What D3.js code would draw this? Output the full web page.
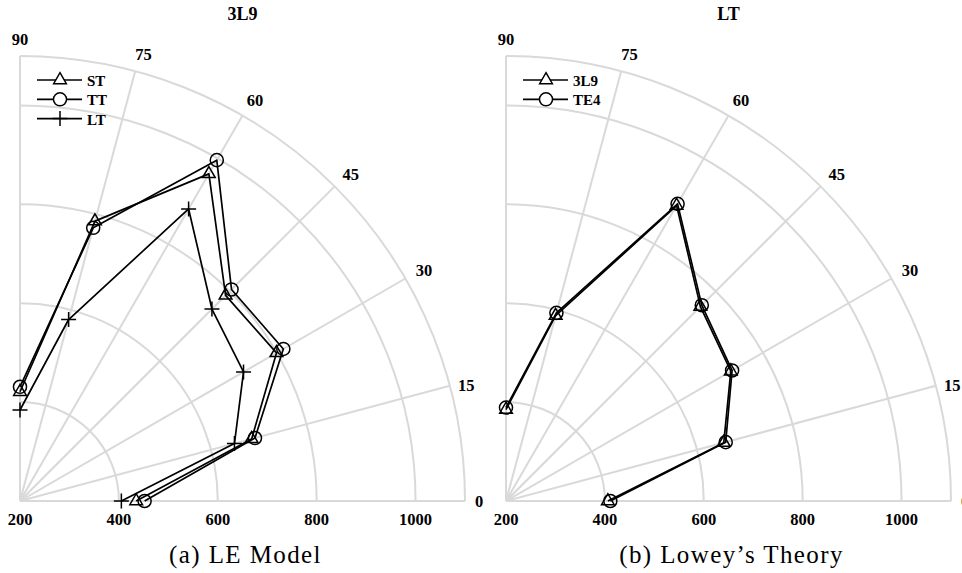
<!DOCTYPE html>
<html>
<head>
<meta charset="utf-8">
<script src="https://cdn.jsdelivr.net/npm/d3@7"></script>
<style>
  html, body { margin: 0; padding: 0; background: #fff; }
  svg { display: block; }
</style>
</head>
<body>
<svg id="chart" width="962" height="573"></svg>
<script>
// ---- data ----
const angles = [0, 15, 30, 45, 60, 75, 90];
const radialTicks = [200, 400, 600, 800, 1000];
const radialMax = 1100;

// panel (a): LE Model, title 3L9
const stValues = [435, 685, 799, 788, 964, 786, 421];
const ttValues = [452, 692, 815, 805, 996, 772, 431];
const ltValues = [405, 649, 722, 749, 882, 580, 384];

// panel (b): Lowey's Theory, title LT
const l39Values = [406, 656, 725, 756, 890, 588, 385];
const te4Values = [411, 660, 728, 760, 894, 594, 389];

const panelTitles = ["3L9", "LT"];
const captions = ["(a) LE Model", "(b) Lowey\u2019s Theory"];
const seriesA = [
  { name: "ST", values: stValues, marker: "triangle" },
  { name: "TT", values: ttValues, marker: "circle" },
  { name: "LT", values: ltValues, marker: "plus" }
];
const seriesB = [
  { name: "3L9", values: l39Values, marker: "triangle" },
  { name: "TE4", values: te4Values, marker: "circle" }
];

// ---- drawing ----
const svg = d3.select("#chart");
const R = 445;
const serif = "'Liberation Serif', 'Times New Roman', serif";
const gridColor = "#d9d9d9";

const rScale = d3.scaleLinear().domain([200, radialMax]).range([0, R]);
const aScale = d3.scaleLinear().domain([0, 90]).range([0, Math.PI / 2]);

function markerPath(type) {
  if (type === "triangle") return d3.symbol().type(d3.symbolTriangle).size(70)();
  if (type === "circle") return d3.symbol().type(d3.symbolCircle).size(135)();
  return "M-7.5,0H7.5M0,-7.5V7.5";
}

function drawPanel(cx, cy, title, caption, series) {
  const g = svg.append("g");
  const pt = (a, v) => [cx + rScale(v) * Math.cos(aScale(a)), cy - rScale(v) * Math.sin(aScale(a))];

  // rings
  const arc = d3.arc().startAngle(0).endAngle(Math.PI / 2).innerRadius(d => rScale(d)).outerRadius(d => rScale(d));
  [...radialTicks.slice(1), radialMax].forEach(v => {
    g.append("path")
      .attr("d", arc(v))
      .attr("transform", `translate(${cx},${cy})`)
      .attr("fill", "none").attr("stroke", gridColor).attr("stroke-width", 2);
  });
  // spokes
  angles.forEach(a => {
    const [x, y] = pt(a, radialMax);
    g.append("line").attr("x1", cx).attr("y1", cy).attr("x2", x).attr("y2", y)
      .attr("stroke", gridColor).attr("stroke-width", 2);
  });
  // angle labels
  angles.forEach(a => {
    const th = aScale(a);
    const d = R + 17;
    const x = cx + d * Math.cos(th) + (a > 0 && a < 90 ? (a === 15 ? 0 : 4) : (a === 0 ? -3 : 0));
    const y = cy - d * Math.sin(th) + (a === 15 ? 4 : 0);
    g.append("text").attr("x", x).attr("y", y)
      .attr("text-anchor", "middle").attr("dominant-baseline", "central")
      .attr("font-family", serif).attr("font-weight", "bold").attr("font-size", 16.5)
      .text(a);
  });
  // radial tick labels
  radialTicks.forEach(v => {
    g.append("text").attr("x", cx + rScale(v)).attr("y", cy + 18)
      .attr("text-anchor", "middle").attr("dominant-baseline", "central")
      .attr("font-family", serif).attr("font-weight", "bold").attr("font-size", 16.5)
      .text(v);
  });
  // title
  g.append("text").attr("x", cx + R / 2).attr("y", 14)
    .attr("text-anchor", "middle").attr("dominant-baseline", "central")
    .attr("font-family", serif).attr("font-weight", "bold").attr("font-size", 18)
    .text(title);
  // caption
  g.append("text").attr("x", cx + R / 2 + 3).attr("y", 563)
    .attr("text-anchor", "middle")
    .attr("font-family", serif).attr("font-size", 25).attr("letter-spacing", "1.4px")
    .text(caption);

  // series
  const line = d3.line().x(d => d[0]).y(d => d[1]);
  series.forEach(s => {
    const pts = s.values.map((v, i) => pt(angles[i], v));
    g.append("path").attr("d", line(pts))
      .attr("fill", "none").attr("stroke", "#000").attr("stroke-width", 1.7)
      .attr("stroke-linejoin", "round");
    g.selectAll(null).data(pts).enter().append("path")
      .attr("d", markerPath(s.marker))
      .attr("transform", d => `translate(${d[0]},${d[1]})`)
      .attr("fill", "none").attr("stroke", "#000").attr("stroke-width", 1.5);
  });

  // legend
  series.forEach((s, i) => {
    const y = 80 + i * 19.3;
    const x0 = cx + 17;
    g.append("line").attr("x1", x0).attr("x2", x0 + 45).attr("y1", y).attr("y2", y)
      .attr("stroke", "#000").attr("stroke-width", 1.7);
    g.append("path").attr("d", markerPath(s.marker))
      .attr("transform", `translate(${x0 + 23},${y})`)
      .attr("fill", "#fff").attr("stroke", "#000").attr("stroke-width", 1.5);
    g.append("text").attr("x", x0 + 50).attr("y", y + 1)
      .attr("dominant-baseline", "central")
      .attr("font-family", serif).attr("font-weight", "bold").attr("font-size", 15)
      .text(s.name);
  });
}

drawPanel(20, 501, panelTitles[0], captions[0], seriesA);
drawPanel(506, 501, panelTitles[1], captions[1], seriesB);
</script>
</body>
</html>
